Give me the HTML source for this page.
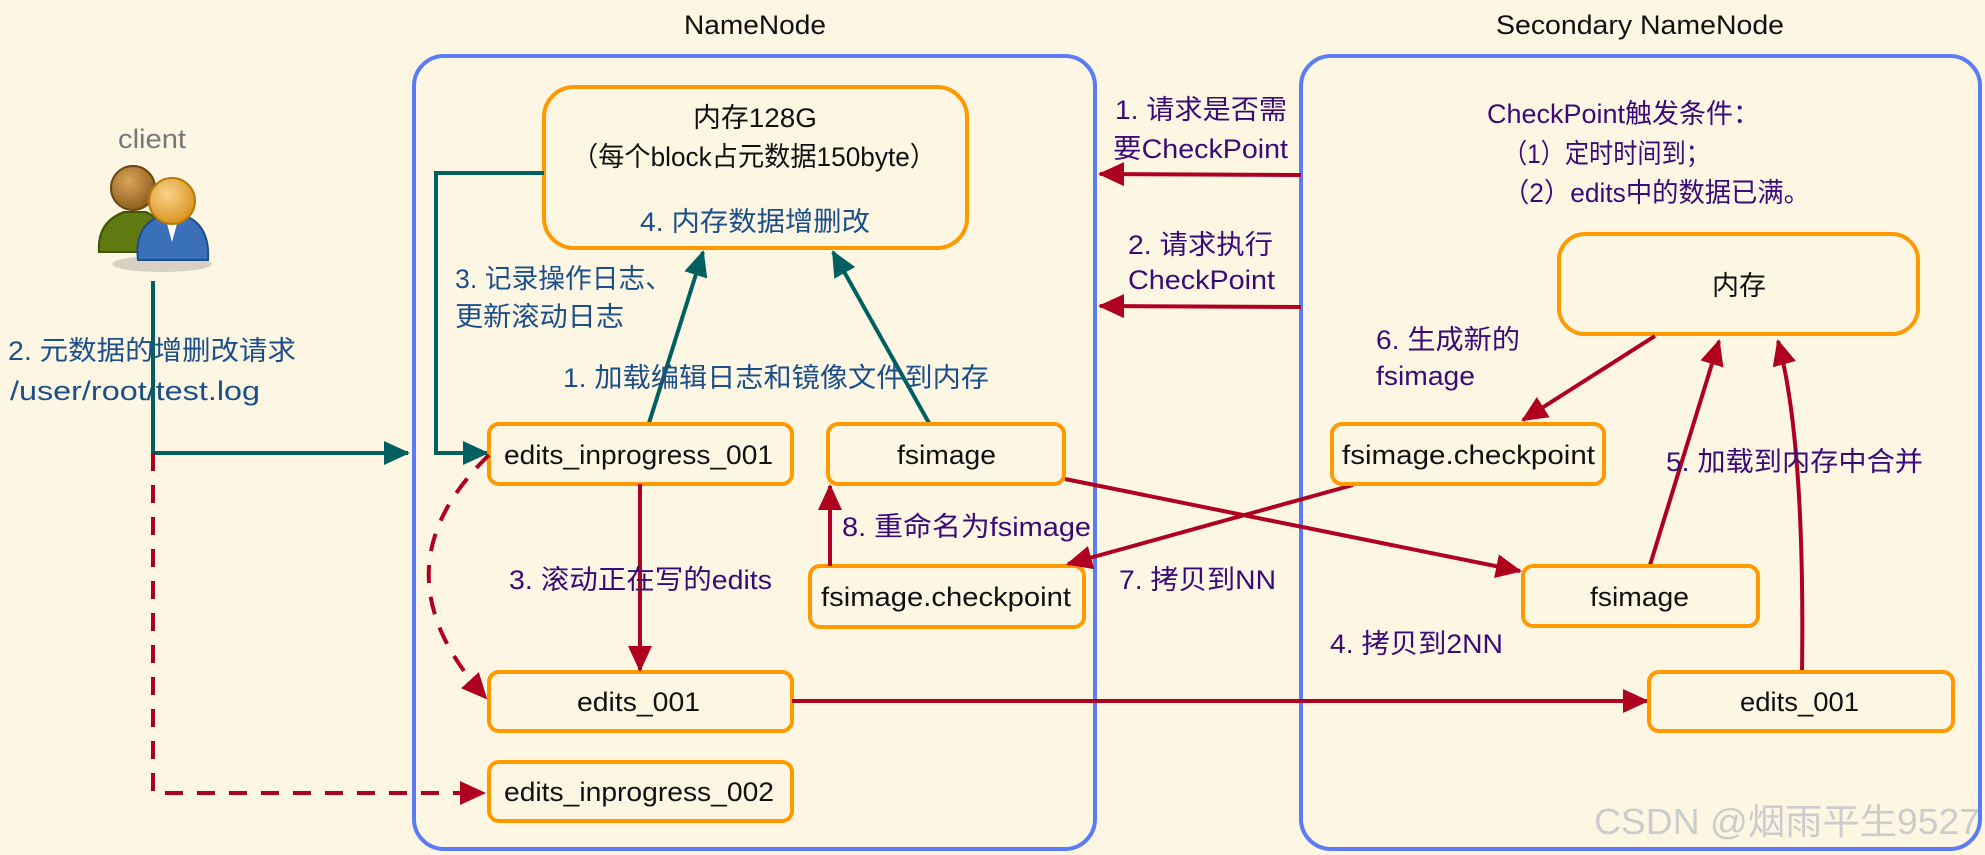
<!DOCTYPE html>
<html><head><meta charset="utf-8"><style>
html,body{margin:0;padding:0;background:#fdf6e3;}
svg{display:block}
text{font-family:"Liberation Sans","Noto Sans CJK SC",sans-serif;font-size:27px}
</style></head><body>
<svg width="1985" height="855" viewBox="0 0 1985 855" xmlns="http://www.w3.org/2000/svg">
<defs>
<marker id="tAb" markerWidth="26" markerHeight="24" refX="24" refY="12" orient="auto" markerUnits="userSpaceOnUse"><path d="M0,0 L26,12 L0,24 z" fill="#006060"/></marker>
<marker id="rA" markerWidth="26" markerHeight="24" refX="24" refY="12" orient="auto" markerUnits="userSpaceOnUse"><path d="M0,0 L26,12 L0,24 z" fill="#b00020"/></marker>
<radialGradient id="h1" cx="0.4" cy="0.35" r="0.7"><stop offset="0" stop-color="#d9a55a"/><stop offset="1" stop-color="#8a5a1a"/></radialGradient>
<radialGradient id="h2" cx="0.4" cy="0.35" r="0.7"><stop offset="0" stop-color="#f8d48a"/><stop offset="1" stop-color="#d98f1a"/></radialGradient>
</defs>
<rect width="1985" height="855" fill="#fdf6e3"/>

<rect x="414" y="56" width="681" height="793" rx="30" fill="none" stroke="#5a7cf6" stroke-width="4"/>
<rect x="1301" y="56" width="679" height="793" rx="30" fill="none" stroke="#5a7cf6" stroke-width="4"/>
<text x="684" y="34" textLength="142" lengthAdjust="spacingAndGlyphs" fill="#111">NameNode</text>
<text x="1496" y="34" textLength="288" lengthAdjust="spacingAndGlyphs" fill="#111">Secondary NameNode</text>

<!-- client -->
<text x="118" y="148" textLength="68" lengthAdjust="spacingAndGlyphs" fill="#777">client</text>
<ellipse cx="162" cy="264" rx="50" ry="8" fill="#000" opacity="0.15"/>
<path d="M99,252 Q97,222 124,212 L146,212 Q168,222 168,252 Z" fill="#5f7a10" stroke="#3f5206" stroke-width="2"/>
<circle cx="133" cy="188" r="22" fill="url(#h1)" stroke="#6a4510" stroke-width="2"/>
<path d="M138,260 Q134,226 160,216 L186,216 Q210,226 208,260 Z" fill="#3a70b8" stroke="#1f4d8a" stroke-width="2"/>
<path d="M166,220 L172,242 L178,220 Z" fill="#fff"/>
<circle cx="172" cy="201" r="23" fill="url(#h2)" stroke="#b8780a" stroke-width="2"/>

<text x="8" y="360" textLength="288" lengthAdjust="spacingAndGlyphs" fill="#1c4f8a">2. 元数据的增删改请求</text>
<text x="10" y="400" textLength="250" lengthAdjust="spacingAndGlyphs" fill="#1c4f8a">/user/root/test.log</text>

<line x1="153" y1="281" x2="153" y2="453" stroke="#006060" stroke-width="4"/>
<line x1="153" y1="453" x2="408" y2="453" stroke="#006060" stroke-width="4" marker-end="url(#tAb)"/>
<path d="M153,453 L153,793 L484,793" fill="none" stroke="#b00020" stroke-width="4" stroke-dasharray="18,14" marker-end="url(#rA)"/>

<rect x="544" y="87" width="423" height="161" rx="30" fill="none" stroke="#ff9900" stroke-width="4"/>
<text x="693" y="127" textLength="124" lengthAdjust="spacingAndGlyphs" fill="#111">内存128G</text>
<text x="572" y="166" textLength="364" lengthAdjust="spacingAndGlyphs" fill="#111">（每个block占元数据150byte）</text>
<text x="640" y="231" textLength="230" lengthAdjust="spacingAndGlyphs" fill="#1c4f8a">4. 内存数据增删改</text>

<path d="M544,173 L436,173 L436,453 L487,453" fill="none" stroke="#006060" stroke-width="4" marker-end="url(#tAb)"/>
<text x="455" y="288" textLength="217" lengthAdjust="spacingAndGlyphs" fill="#1c4f8a">3. 记录操作日志、</text>
<text x="455" y="326" textLength="169" lengthAdjust="spacingAndGlyphs" fill="#1c4f8a">更新滚动日志</text>

<line x1="649" y1="423" x2="703" y2="252" stroke="#006060" stroke-width="4" marker-end="url(#tAb)"/>
<line x1="929" y1="423" x2="833" y2="252" stroke="#006060" stroke-width="4" marker-end="url(#tAb)"/>
<text x="563" y="387" textLength="426" lengthAdjust="spacingAndGlyphs" fill="#1c4f8a">1. 加载编辑日志和镜像文件到内存</text>

<rect x="489" y="424" width="303" height="60" rx="10" fill="none" stroke="#ff9900" stroke-width="4"/>
<text x="504" y="464" textLength="269" lengthAdjust="spacingAndGlyphs" fill="#111">edits_inprogress_001</text>
<rect x="828" y="424" width="236" height="60" rx="10" fill="none" stroke="#ff9900" stroke-width="4"/>
<text x="897" y="464" textLength="99" lengthAdjust="spacingAndGlyphs" fill="#111">fsimage</text>
<rect x="810" y="566" width="274" height="61" rx="10" fill="none" stroke="#ff9900" stroke-width="4"/>
<text x="821" y="606" textLength="250" lengthAdjust="spacingAndGlyphs" fill="#111">fsimage.checkpoint</text>
<rect x="489" y="672" width="303" height="59" rx="10" fill="none" stroke="#ff9900" stroke-width="4"/>
<text x="577" y="711" textLength="123" lengthAdjust="spacingAndGlyphs" fill="#111">edits_001</text>
<rect x="489" y="762" width="303" height="59" rx="10" fill="none" stroke="#ff9900" stroke-width="4"/>
<text x="504" y="801" textLength="270" lengthAdjust="spacingAndGlyphs" fill="#111">edits_inprogress_002</text>

<line x1="640" y1="484" x2="640" y2="670" stroke="#b00020" stroke-width="4" marker-end="url(#rA)"/>
<text x="509" y="589" textLength="263" lengthAdjust="spacingAndGlyphs" fill="#3a0a78">3. 滚动正在写的edits</text>
<path d="M489,455 Q370,570 486,698" fill="none" stroke="#b00020" stroke-width="4" stroke-dasharray="18,14" marker-end="url(#rA)"/>
<line x1="830" y1="566" x2="830" y2="486" stroke="#b00020" stroke-width="4" marker-end="url(#rA)"/>
<text x="842" y="536" textLength="249" lengthAdjust="spacingAndGlyphs" fill="#3a0a78">8. 重命名为fsimage</text>

<line x1="1301" y1="175" x2="1100" y2="174" stroke="#b00020" stroke-width="4" marker-end="url(#rA)"/>
<text x="1115" y="119" textLength="172" lengthAdjust="spacingAndGlyphs" fill="#3a0a78">1. 请求是否需</text>
<text x="1113" y="158" textLength="175" lengthAdjust="spacingAndGlyphs" fill="#3a0a78">要CheckPoint</text>
<line x1="1301" y1="307" x2="1100" y2="306" stroke="#b00020" stroke-width="4" marker-end="url(#rA)"/>
<text x="1128" y="254" textLength="145" lengthAdjust="spacingAndGlyphs" fill="#3a0a78">2. 请求执行</text>
<text x="1128" y="289" textLength="147" lengthAdjust="spacingAndGlyphs" fill="#3a0a78">CheckPoint</text>

<line x1="1065" y1="479" x2="1520" y2="571" stroke="#b00020" stroke-width="4" marker-end="url(#rA)"/>
<line x1="1353" y1="485" x2="1068" y2="564" stroke="#b00020" stroke-width="4" marker-end="url(#rA)"/>
<text x="1119" y="589" textLength="157" lengthAdjust="spacingAndGlyphs" fill="#3a0a78">7. 拷贝到NN</text>
<line x1="792" y1="701" x2="1647" y2="701" stroke="#b00020" stroke-width="4" marker-end="url(#rA)"/>
<text x="1330" y="653" textLength="173" lengthAdjust="spacingAndGlyphs" fill="#3a0a78">4. 拷贝到2NN</text>

<text x="1487" y="123" textLength="273" lengthAdjust="spacingAndGlyphs" fill="#3a0a78">CheckPoint触发条件：</text>
<text x="1503" y="163" textLength="207" lengthAdjust="spacingAndGlyphs" fill="#3a0a78">（1）定时时间到；</text>
<text x="1503" y="202" textLength="307" lengthAdjust="spacingAndGlyphs" fill="#3a0a78">（2）edits中的数据已满。</text>
<rect x="1559" y="234" width="359" height="100" rx="26" fill="none" stroke="#ff9900" stroke-width="4"/>
<text x="1712" y="295" textLength="54" lengthAdjust="spacingAndGlyphs" fill="#111">内存</text>
<text x="1376" y="349" textLength="144" lengthAdjust="spacingAndGlyphs" fill="#3a0a78">6. 生成新的</text>
<text x="1376" y="385" textLength="99" lengthAdjust="spacingAndGlyphs" fill="#3a0a78">fsimage</text>
<line x1="1655" y1="336" x2="1523" y2="420" stroke="#b00020" stroke-width="4" marker-end="url(#rA)"/>
<rect x="1332" y="424" width="272" height="60" rx="10" fill="none" stroke="#ff9900" stroke-width="4"/>
<text x="1342" y="464" textLength="253" lengthAdjust="spacingAndGlyphs" fill="#111">fsimage.checkpoint</text>
<line x1="1650" y1="565" x2="1719" y2="341" stroke="#b00020" stroke-width="4" marker-end="url(#rA)"/>
<path d="M1802,671 Q1805,440 1778,341" fill="none" stroke="#b00020" stroke-width="4" marker-end="url(#rA)"/>
<text x="1666" y="471" textLength="257" lengthAdjust="spacingAndGlyphs" fill="#3a0a78">5. 加载到内存中合并</text>
<rect x="1523" y="566" width="235" height="60" rx="10" fill="none" stroke="#ff9900" stroke-width="4"/>
<text x="1590" y="606" textLength="99" lengthAdjust="spacingAndGlyphs" fill="#111">fsimage</text>
<rect x="1649" y="672" width="304" height="59" rx="10" fill="none" stroke="#ff9900" stroke-width="4"/>
<text x="1740" y="711" textLength="119" lengthAdjust="spacingAndGlyphs" fill="#111">edits_001</text>

<text x="1594" y="834" textLength="386" lengthAdjust="spacingAndGlyphs" fill="#ccc" style="font-size:36px">CSDN @烟雨平生9527</text>
</svg>
</body></html>
